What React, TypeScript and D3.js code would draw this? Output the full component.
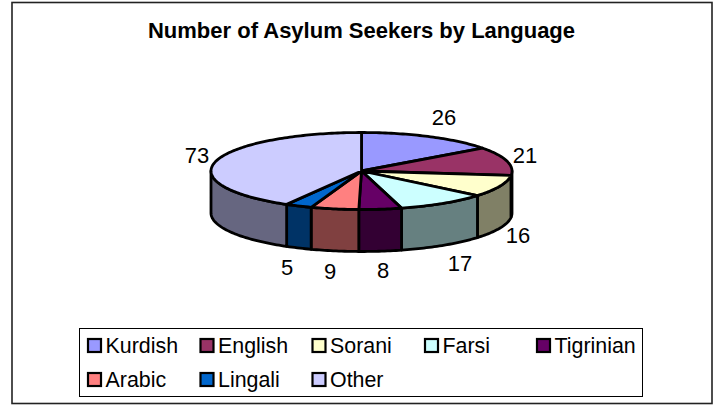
import React from "react";
import * as d3 from "d3";

const categories = ["Kurdish", "English", "Sorani", "Farsi", "Tigrinian", "Arabic", "Lingali", "Other"];
const values = [26, 21, 16, 17, 8, 9, 5, 73];
const topColors = ["#9999FF", "#993366", "#FFFFCC", "#CCFFFF", "#660066", "#FF8080", "#0066CC", "#CCCCFF"];
const sideColors = ["#666680", "#804060", "#808066", "#668080", "#330033", "#804040", "#003366", "#666680"];
const chartTitle = "Number of Asylum Seekers by Language";

// layout
const W = 716, H = 405;
const cx = 361.5, cy = 171, rx = 150.5, ry = 38.5, depth = 42;
const labelPos: [number, number][] = [[444, 117], [525, 155], [518, 235], [460, 263], [383, 270], [330, 271], [287, 267], [197, 155]];
const legendCols = [88, 200.5, 312.5, 425, 537];
const legendRows = [345.5, 379.5];
const font = "'Liberation Sans', Arial, sans-serif";

const pie = d3.pie<number>().sort(null).value((d) => d)(values);
const px = (a: number) => cx + rx * Math.sin(a);
const py = (a: number) => cy - ry * Math.cos(a);
const samples = (a0: number, a1: number) => {
  const n = Math.max(2, Math.ceil((a1 - a0) / 0.02));
  return d3.range(n + 1).map((i) => a0 + ((a1 - a0) * i) / n);
};
const line = d3.line<[number, number]>();

function topPath(a0: number, a1: number) {
  const pts: [number, number][] = [[cx, cy], ...samples(a0, a1).map((a) => [px(a), py(a)] as [number, number])];
  return line(pts) + "Z";
}
function wallPath(a0: number, a1: number) {
  const s = samples(a0, a1);
  const pts: [number, number][] = [
    ...s.map((a) => [px(a), py(a)] as [number, number]),
    ...s.slice().reverse().map((a) => [px(a), py(a) + depth] as [number, number]),
  ];
  return line(pts) + "Z";
}
const HALF = Math.PI / 2;

export default function App() {
  const walls = pie
    .map((p, i) => ({ i, a0: Math.max(p.startAngle, HALF), a1: Math.min(p.endAngle, 3 * HALF) }))
    .filter((w) => w.a1 > w.a0);
  return (
    <svg width={W} height={H} style={{ position: "absolute", left: 0, top: 0 }} fontFamily={font}>
      <rect x={0} y={0} width={W} height={H} fill="#fff" />
      <rect x={12} y={2.5} width={700} height={401} fill="#fff" stroke="#222" strokeWidth={1.6} />
      <text x={361.5} y={37.5} textAnchor="middle" fontSize={22} fontWeight="bold" fill="#000">{chartTitle}</text>
      {walls.map((w) => (
        <path key={w.i} d={wallPath(w.a0, w.a1)} fill={sideColors[w.i]} stroke="#000" strokeWidth={2.8} strokeLinejoin="round" />
      ))}
      {pie.map((p, i) => (
        <path key={i} d={topPath(p.startAngle, p.endAngle)} fill={topColors[i]} stroke="#000" strokeWidth={2.8} strokeLinejoin="round" />
      ))}
      {values.map((v, i) => (
        <text key={i} x={labelPos[i][0]} y={labelPos[i][1] + 8} textAnchor="middle" fontSize={22} fill="#000">{v}</text>
      ))}
      <rect x={79.5} y={328.5} width={563} height={68} fill="#fff" stroke="#000" strokeWidth={1} />
      {categories.map((c, i) => {
        const x = legendCols[i % 5];
        const y = legendRows[Math.floor(i / 5)];
        return (
          <g key={c}>
            <rect x={x} y={y - 6.5} width={13} height={13} fill={topColors[i]} stroke="#000" strokeWidth={2.2} />
            <text x={x + 17.5} y={y + 7.5} fontSize={21.4} fill="#000">{c}</text>
          </g>
        );
      })}
    </svg>
  );
}
